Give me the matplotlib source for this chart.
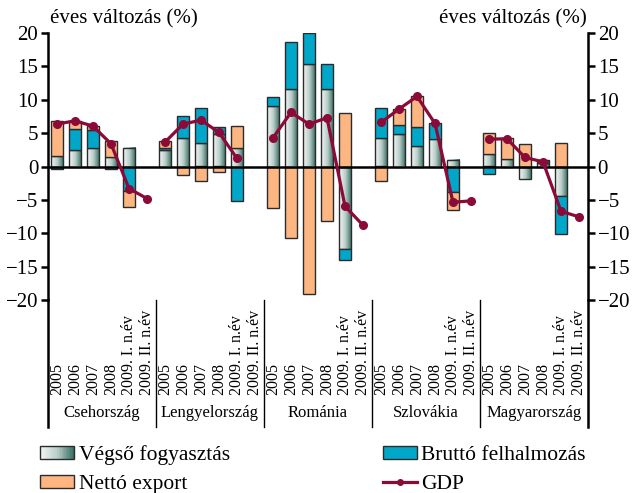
import numpy as np
import matplotlib
matplotlib.use('Agg')
import matplotlib.pyplot as plt
from matplotlib.colors import LinearSegmentedColormap
from matplotlib.patches import Rectangle
from matplotlib.lines import Line2D
from matplotlib.legend_handler import HandlerBase

plt.rcParams['font.family'] = ['Liberation Serif', 'DejaVu Serif']

countries = ['Csehország', 'Lengyelország', 'Románia', 'Szlovákia', 'Magyarország']
periods = ['2005', '2006', '2007', '2008', '2009. I. n.év', '2009. II. n.év']

# bars exist for the first 5 periods, GDP for all 6
vegso = [[1.6, 2.5, 2.7, 1.4, 2.7],
         [2.4, 4.2, 3.5, 4.8, 2.7],
         [9.0, 11.6, 15.4, 11.6, -12.4],
         [4.3, 4.8, 3.1, 4.1, 0.9],
         [1.85, 1.15, -1.9, 0.5, -4.45]]
brutto = [[-0.4, 3.1, 2.7, -0.4, -3.7],
          [0.3, 3.35, 5.3, 1.05, -5.1],
          [1.4, 7.05, 4.55, 3.8, -1.6],
          [4.5, 1.45, 2.8, 2.35, -3.8],
          [-1.1, 0.0, 0.0, 0.3, -5.6]]
netto = [[5.2, 1.2, 0.65, 2.4, -2.3],
         [1.1, -1.2, -2.1, -0.85, 3.4],
         [-6.25, -10.75, -19.1, -8.1, 7.95],
         [-2.1, 2.35, 4.6, 0.0, -2.75],
         [3.2, 3.1, 3.3, 0.15, 3.45]]
gdp = [[6.35, 6.85, 6.05, 3.4, -3.3, -4.8],
       [3.65, 6.35, 6.95, 5.1, 1.2, np.nan],
       [4.3, 8.1, 6.35, 7.3, -5.95, -8.8],
       [6.6, 8.6, 10.5, 6.45, -5.35, -5.15],
       [4.1, 4.15, 1.35, 0.7, -6.7, -7.55]]

c_orange = '#fdb682'
c_blue = '#00a7c9'
c_gdp = '#8c0a38'
c_edge = '#2b2b2b'
grad_cmap = LinearSegmentedColormap.from_list('g', ['#f4f7f6', '#b9cdc8', '#2f6b5e'])

fig = plt.figure(figsize=(6.35, 4.93), dpi=100)
ax = fig.add_axes([48/635, 1 - 300/493, 540/635, 267/493])

width = 0.67
nslot = len(periods)
grad = np.linspace(0, 1, 64).reshape(1, -1)

for g in range(len(countries)):
    for s in range(5):
        x = g*nslot + s
        pos, neg = 0.0, 0.0
        for comp, val in (('v', vegso[g][s]), ('b', brutto[g][s]), ('n', netto[g][s])):
            if val == 0:
                continue
            if val > 0:
                y0, y1 = pos, pos + val
                pos = y1
            else:
                y0, y1 = neg + val, neg
                neg = y0
            if comp == 'v':
                ax.imshow(grad, extent=[x - width/2, x + width/2, y0, y1],
                          cmap=grad_cmap, aspect='auto', zorder=2, interpolation='bilinear')
                ax.bar(x, y1 - y0, width, bottom=y0, fill=False, edgecolor=c_edge, lw=1, zorder=2.1)
            else:
                ax.bar(x, y1 - y0, width, bottom=y0, color=c_orange if comp == 'n' else c_blue,
                       edgecolor=c_edge, lw=1, zorder=2.1)
    xs = np.arange(nslot) + g*nslot
    ax.plot(xs, gdp[g], color=c_gdp, lw=2.3, marker='o', ms=5.5, zorder=4)

ax.axhline(0, color='black', lw=1.8, zorder=3)

ax.set_xlim(-0.5, len(countries)*nslot - 0.5)
ax.set_ylim(-20, 20)
ax.set_yticks(range(-20, 21, 5))
ax.set_yticklabels(['\u2212%d' % -v if v < 0 else str(v) for v in range(-20, 21, 5)])
ax.set_xticks([])
ax.tick_params(axis='y', which='both', direction='out', length=5, width=1.8, labelsize=15,
               left=True, right=True, labelleft=True, labelright=True, pad=2)
for side in ('top', 'bottom'):
    ax.spines[side].set_visible(False)
for side in ('left', 'right'):
    ax.spines[side].set_linewidth(1.8)

# period labels, country names and group dividers below the axis
trans = ax.get_xaxis_transform()
for g in range(len(countries)):
    for s in range(nslot):
        ax.text(g*nslot + s, -0.356, periods[s], rotation=90, ha='center', va='bottom',
                fontsize=11.5, transform=trans, clip_on=False)
    ax.text(g*nslot + (nslot - 1)/2, -0.423, countries[g], ha='center', va='center',
            fontsize=12, transform=trans, clip_on=False)
for g in range(len(countries) + 1):
    xd = g*nslot - 0.5
    lw = 1.8 if g in (0, len(countries)) else 1.0
    ax.plot([xd, xd], [0, -0.476], color='black', lw=lw, transform=trans, clip_on=False)

fig.text(50/635, 1 - 19/493, 'éves változás (%)', fontsize=15, ha='left', va='center')
fig.text(587/635, 1 - 19/493, 'éves változás (%)', fontsize=15, ha='right', va='center')


class GradHandler(HandlerBase):
    def create_artists(self, legend, orig_handle, xdescent, ydescent, width, height, fontsize, trans):
        n = 24
        arts = []
        for i in range(n):
            arts.append(Rectangle((-xdescent + width*i/n, -ydescent), width/n, height,
                                  facecolor=grad_cmap((i + 0.5)/n), edgecolor='none', transform=trans))
        arts.append(Rectangle((-xdescent, -ydescent), width, height, facecolor='none',
                              edgecolor=c_edge, lw=1, transform=trans))
        return arts


h_v = Rectangle((0, 0), 1, 1)
h_n = Rectangle((0, 0), 1, 1, facecolor=c_orange, edgecolor=c_edge, lw=1)
h_b = Rectangle((0, 0), 1, 1, facecolor=c_blue, edgecolor=c_edge, lw=1)
h_g = Line2D([], [], color=c_gdp, lw=2.3, marker='o', ms=4)
fig.legend([h_v, h_n, h_b, h_g], ['Végső fogyasztás', 'Nettó export', 'Bruttó felhalmozás', 'GDP'],
           handler_map={h_v: GradHandler()}, ncol=2, loc='upper left',
           bbox_to_anchor=(40/635, 1 - 445/493), frameon=False, fontsize=15.5,
           handlelength=1.6, handleheight=0.55, handletextpad=0.2, columnspacing=7.1,
           labelspacing=0.45, borderaxespad=0, borderpad=0)

fig.savefig('out.png', dpi=100)
